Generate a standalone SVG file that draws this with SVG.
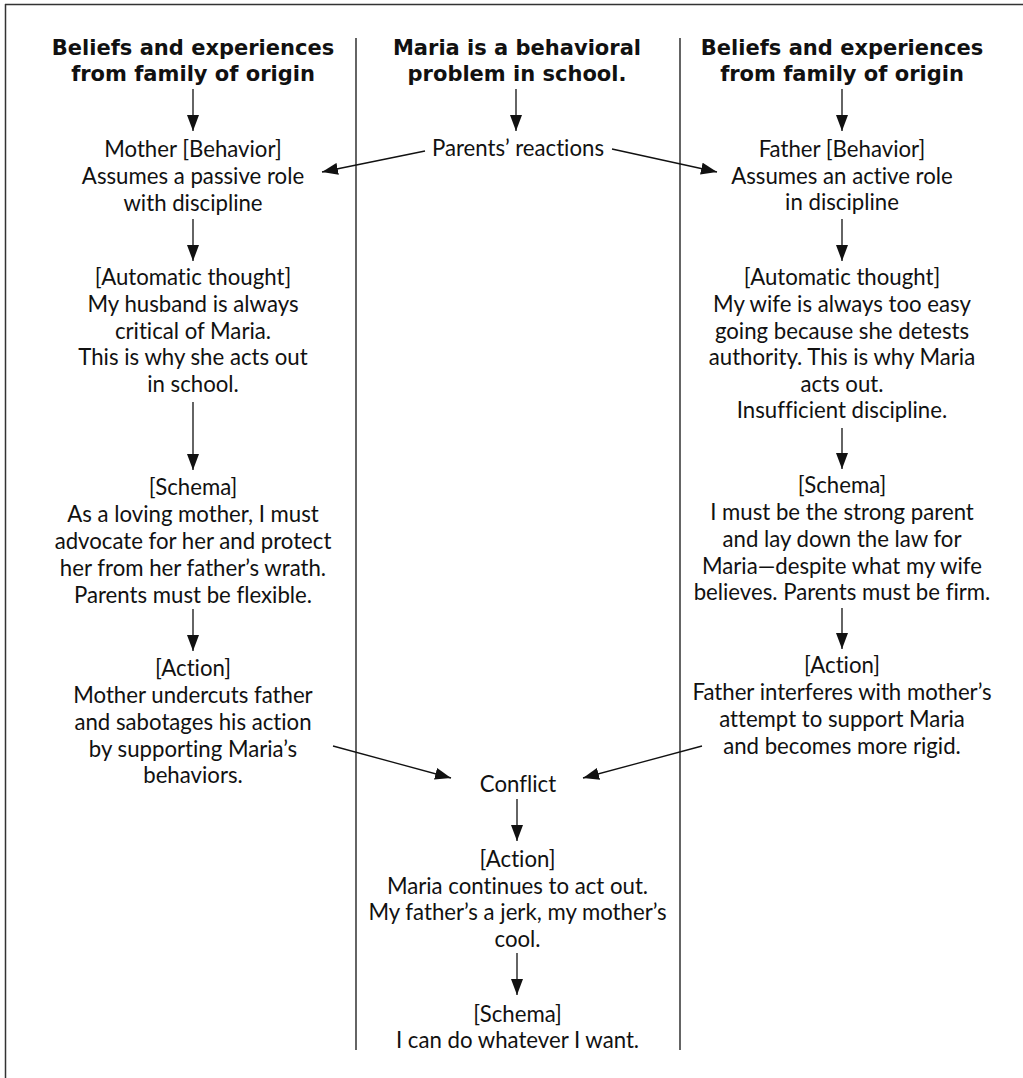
<svg xmlns="http://www.w3.org/2000/svg" width="1023" height="1078" viewBox="0 0 1023 1078">
  <style>
    .frame { stroke: #333; stroke-width: 1.5; fill: none; }
    .divider { stroke: #111; stroke-width: 1.3; fill: none; }
    .edge { stroke: #111; stroke-width: 1.3; fill: none; marker-end: url(#head); }
    .head { font-family: "DejaVu Sans", "Liberation Sans", sans-serif; font-weight: 700; font-size: 21px; fill: #111; text-anchor: middle; }
    .body { font-family: Lato, "Liberation Sans", sans-serif; font-weight: 400; font-size: 22.2px; fill: #111; text-anchor: middle; font-variant-ligatures: none; }
  </style>
  <defs>
    <marker id="head" markerUnits="userSpaceOnUse" markerWidth="16" markerHeight="12" refX="16" refY="6" orient="auto">
      <path d="M0,0 L16,6 L0,12 z" fill="#111"/>
    </marker>
  </defs>

  <rect width="1023" height="1078" fill="#fff"/>

  <!-- outer frame: top and left edges -->
  <g id="frame">
    <line class="frame" x1="5" y1="4.5" x2="1023" y2="4.5"/>
    <line class="frame" x1="5.5" y1="4" x2="5.5" y2="1078"/>
  </g>

  <!-- column dividers -->
  <g id="dividers">
    <line class="divider" x1="356" y1="38" x2="356" y2="1050"/>
    <line class="divider" x1="680" y1="38" x2="680" y2="1050"/>
  </g>

  <!-- connectors -->
  <g id="connectors">
    <line class="edge" x1="193" y1="89" x2="193" y2="131"/>
    <line class="edge" x1="193" y1="219" x2="193" y2="261"/>
    <line class="edge" x1="193" y1="402" x2="193" y2="470"/>
    <line class="edge" x1="193" y1="609" x2="193" y2="651"/>

    <line class="edge" x1="842" y1="89" x2="842" y2="131"/>
    <line class="edge" x1="842" y1="219" x2="842" y2="261"/>
    <line class="edge" x1="842" y1="428" x2="842" y2="469"/>
    <line class="edge" x1="842" y1="608" x2="842" y2="649"/>

    <line class="edge" x1="516" y1="89" x2="516" y2="131"/>
    <line class="edge" x1="425" y1="151" x2="322" y2="172"/>
    <line class="edge" x1="612" y1="149" x2="717" y2="172"/>

    <line class="edge" x1="333" y1="746" x2="451" y2="778"/>
    <line class="edge" x1="702" y1="746" x2="583" y2="778"/>
    <line class="edge" x1="517" y1="799" x2="517" y2="841"/>
    <line class="edge" x1="517" y1="953" x2="517" y2="995"/>
  </g>

  <!-- left column: mother -->
  <g id="mother-origin">
    <text class="head" x="193" y="55">Beliefs and experiences<tspan x="193" dy="26">from family of origin</tspan></text>
  </g>
  <g id="mother-behavior">
    <text class="body" x="193" y="157">Mother [Behavior]<tspan x="193" dy="27">Assumes a passive role</tspan><tspan x="193" dy="27">with discipline</tspan></text>
  </g>
  <g id="mother-thought">
    <text class="body" x="193" y="285">[Automatic thought]<tspan x="193" dy="27">My husband is always</tspan><tspan x="193" dy="26.5">critical of Maria.</tspan><tspan x="193" dy="26.5">This is why she acts out</tspan><tspan x="193" dy="27">in school.</tspan></text>
  </g>
  <g id="mother-schema">
    <text class="body" x="193" y="495">[Schema]<tspan x="193" dy="27">As a loving mother, I must</tspan><tspan x="193" dy="27">advocate for her and protect</tspan><tspan x="193" dy="27">her from her father’s wrath.</tspan><tspan x="193" dy="27">Parents must be flexible.</tspan></text>
  </g>
  <g id="mother-action">
    <text class="body" x="193" y="676">[Action]<tspan x="193" dy="27">Mother undercuts father</tspan><tspan x="193" dy="27">and sabotages his action</tspan><tspan x="193" dy="26.5">by supporting Maria’s</tspan><tspan x="193" dy="26.5">behaviors.</tspan></text>
  </g>

  <!-- middle column: Maria -->
  <g id="maria-problem">
    <text class="head" x="517" y="55">Maria is a behavioral<tspan x="517" dy="26">problem in school.</tspan></text>
  </g>
  <g id="parents-reactions">
    <text class="body" x="518" y="156">Parents’ reactions</text>
  </g>
  <g id="conflict">
    <text class="body" x="518" y="792">Conflict</text>
  </g>
  <g id="maria-action">
    <text class="body" x="517.5" y="867">[Action]<tspan x="517.5" dy="26.5">Maria continues to act out.</tspan><tspan x="517.5" dy="26.5">My father’s a jerk, my mother’s</tspan><tspan x="517.5" dy="27">cool.</tspan></text>
  </g>
  <g id="maria-schema">
    <text class="body" x="517.5" y="1022">[Schema]<tspan x="517.5" dy="26">I can do whatever I want.</tspan></text>
  </g>

  <!-- right column: father -->
  <g id="father-origin">
    <text class="head" x="842" y="55">Beliefs and experiences<tspan x="842" dy="26">from family of origin</tspan></text>
  </g>
  <g id="father-behavior">
    <text class="body" x="842" y="157">Father [Behavior]<tspan x="842" dy="27">Assumes an active role</tspan><tspan x="842" dy="26">in discipline</tspan></text>
  </g>
  <g id="father-thought">
    <text class="body" x="842" y="285">[Automatic thought]<tspan x="842" dy="27">My wife is always too easy</tspan><tspan x="842" dy="26.5">going because she detests</tspan><tspan x="842" dy="26.5">authority. This is why Maria</tspan><tspan x="842" dy="27">acts out.</tspan><tspan x="842" dy="26">Insufficient discipline.</tspan></text>
  </g>
  <g id="father-schema">
    <text class="body" x="842" y="493">[Schema]<tspan x="842" dy="27">I must be the strong parent</tspan><tspan x="842" dy="27">and lay down the law for</tspan><tspan x="842" dy="27">Maria—despite what my wife</tspan><tspan x="842" dy="26">believes. Parents must be firm.</tspan></text>
  </g>
  <g id="father-action">
    <text class="body" x="842" y="673">[Action]<tspan x="842" dy="27">Father interferes with mother’s</tspan><tspan x="842" dy="27">attempt to support Maria</tspan><tspan x="842" dy="27">and becomes more rigid.</tspan></text>
  </g>
</svg>
